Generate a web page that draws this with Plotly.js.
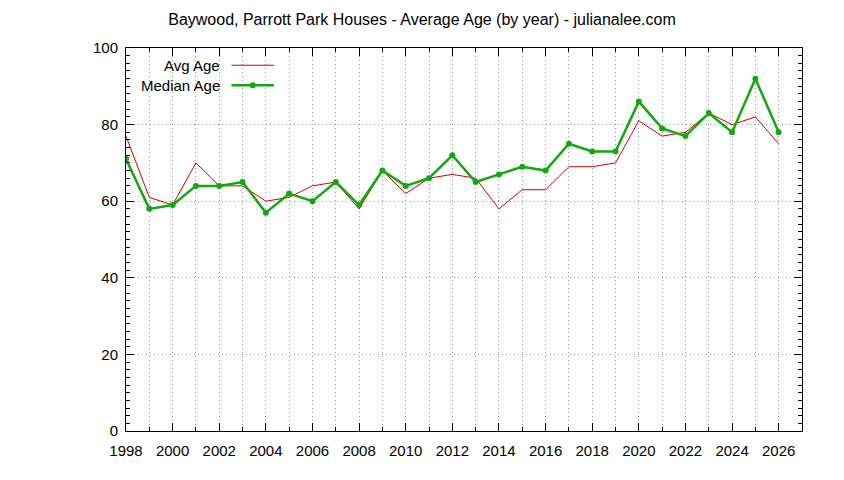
<!DOCTYPE html>
<html>
<head>
<meta charset="utf-8">
<script src="https://cdn.plot.ly/plotly-3.0.1.min.js"></script>
<style>
  html, body { margin: 0; padding: 0; background: #fff; }
  #chart { width: 844px; height: 480px; }
</style>
</head>
<body>
<div id="chart"></div>
<script>
var years = [1998, 1999, 2000, 2001, 2002, 2003, 2004, 2005, 2006, 2007,
             2008, 2009, 2010, 2011, 2012, 2013, 2014, 2015, 2016, 2017,
             2018, 2019, 2020, 2021, 2022, 2023, 2024, 2025, 2026];
var avgAge = [77, 61, 59, 70, 64, 64, 60, 61, 64, 65,
              58, 68, 62, 66, 67, 66, 58, 63, 63, 69,
              69, 70, 81, 77, 78, 83, 80, 82, 75];
var medianAge = [71, 58, 59, 64, 64, 65, 57, 62, 60, 65,
                 59, 68, 64, 66, 72, 65, 67, 69, 68, 75,
                 73, 73, 86, 79, 77, 83, 78, 92, 78];
var seriesNames = ["Avg Age", "Median Age"];

var RED = "#d40000";
var GREEN = "#12a812";
var FONT = "Liberation Sans";
var GRID = "#9a9a9a";

var data = [
  {
    type: "scatter", mode: "lines", name: seriesNames[0],
    x: years, y: avgAge,
    line: { color: RED, width: 1 },
    showlegend: false
  },
  {
    type: "scatter", mode: "lines+markers", name: seriesNames[1],
    x: years, y: medianAge,
    line: { color: GREEN, width: 2.5 },
    marker: { color: GREEN, size: 6 },
    showlegend: false
  }
];

// gnuplot style key: text right-aligned, sample line to the right
var keyY = [0.955, 0.903];
var annotations = [];
var shapes = [];
seriesNames.forEach(function (nm, i) {
  annotations.push({
    xref: "paper", yref: "paper", x: 0.142, y: keyY[i],
    xanchor: "right", yanchor: "middle", showarrow: false,
    text: nm, font: { family: FONT, size: 15, color: "#000" }
  });
  shapes.push({
    type: "line", xref: "paper", yref: "paper",
    x0: 0.156, x1: 0.219, y0: keyY[i], y1: keyY[i],
    line: { color: i ? GREEN : RED, width: i ? 2.5 : 1 }
  });
});
shapes.push({
  type: "circle", xref: "paper", yref: "paper",
  x0: 0.1875 - 0.0045, x1: 0.1875 + 0.0045,
  y0: keyY[1] - 0.0078, y1: keyY[1] + 0.0078,
  fillcolor: GREEN, line: { color: GREEN, width: 0 }
});

var layout = {
  width: 844,
  height: 480,
  margin: { l: 126, r: 42, t: 48, b: 49 },
  paper_bgcolor: "#fff",
  plot_bgcolor: "#fff",
  font: { family: FONT, size: 15, color: "#000" },
  title: {
    text: "Baywood, Parrott Park Houses - Average Age (by year) - julianalee.com",
    font: { family: FONT, size: 16, color: "#000" },
    x: 0.5, xref: "container", xanchor: "center",
    y: 0.96, yref: "container", yanchor: "middle"
  },
  xaxis: {
    range: [1998, 2027],
    tick0: 1998, dtick: 2,
    ticks: "inside", ticklen: 8, tickcolor: "#000", tickwidth: 1,
    mirror: "allticks", showline: true, linecolor: "#000", linewidth: 1,
    showgrid: true, gridcolor: GRID, griddash: "1px,3px", gridwidth: 1,
    minor: { dtick: 1, ticks: "inside", ticklen: 4, tickcolor: "#000",
             showgrid: true, gridcolor: GRID, griddash: "1px,3px", gridwidth: 1 },
    zeroline: false,
    tickfont: { family: FONT, size: 15 },
    ticklabelstandoff: 6
  },
  yaxis: {
    range: [0, 100],
    tick0: 0, dtick: 20,
    ticks: "inside", ticklen: 8, tickcolor: "#000", tickwidth: 1,
    mirror: "allticks", showline: true, linecolor: "#000", linewidth: 1,
    showgrid: true, gridcolor: GRID, griddash: "1px,3px", gridwidth: 1,
    minor: { dtick: 2, ticks: "inside", ticklen: 4, tickcolor: "#000", showgrid: false },
    zeroline: false,
    tickfont: { family: FONT, size: 15 },
    ticklabelstandoff: 4
  },
  annotations: annotations,
  shapes: shapes
};

Plotly.newPlot("chart", data, layout, { displayModeBar: false, staticPlot: true });
</script>
</body>
</html>
